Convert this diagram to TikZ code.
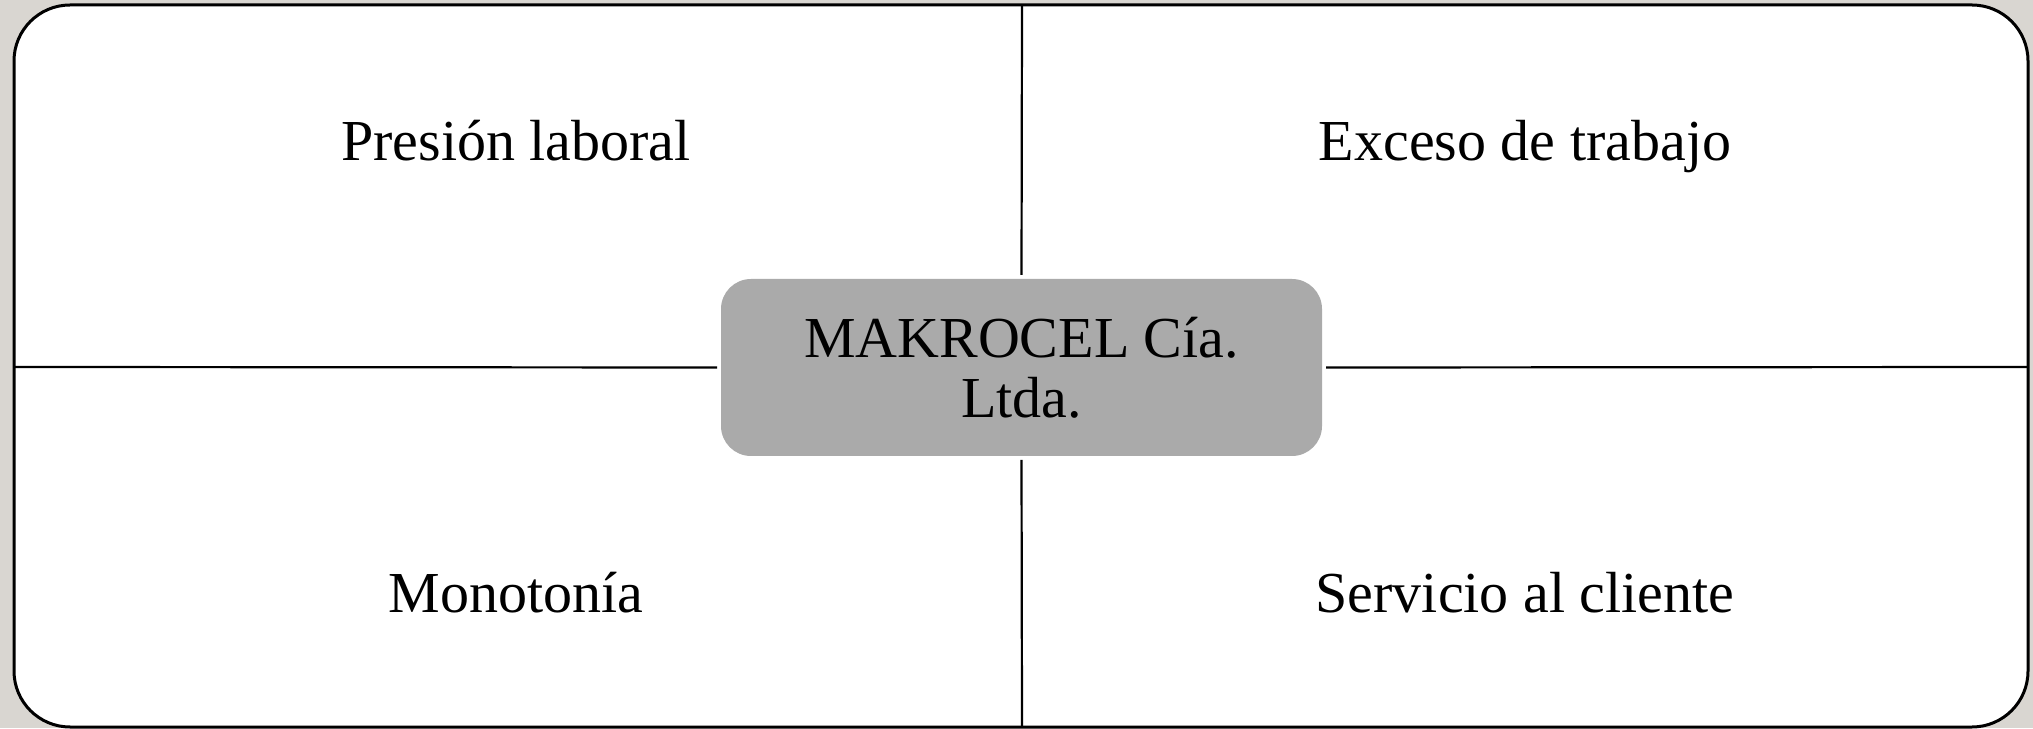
\documentclass[tikz,border=0pt]{standalone}
\usepackage{fontspec}
\setmainfont{Liberation Serif}
\definecolor{fondo}{RGB}{217,214,209}
\definecolor{caja}{RGB}{170,170,170}
\tikzset{
  etiqueta/.style={font=\fontsize{58}{61}\selectfont, anchor=base},
  centro/.style={fill=caja, rounded corners=30pt, minimum width=601pt,
    minimum height=177pt, align=center, outer sep=4pt,
    font=\fontsize{58}{60}\selectfont},
  divisor/.style={line width=2.2pt}
}
\begin{document}
\begin{tikzpicture}[x=1pt, y=1pt]
  % background and frame
  \fill[fondo] (0,0) rectangle (2033,728);
  \useasboundingbox (0,0) rectangle (2033,728);
  \draw[line width=3pt, fill=white, rounded corners=56pt] (14,1) rectangle (2028,723);

  % central company box
  \node[centro] (empresa) at (1021.5,360.5) {MAKROCEL Cía.\\Ltda.};

  % border points
  \coordinate (arriba) at (1022,723);
  \coordinate (abajo) at (1022,1);
  \coordinate (izq) at (14,361);
  \coordinate (der) at (2028,361);

  % dividing lines
  \draw[divisor] (empresa.north) -- (arriba);
  \draw[divisor] (empresa.south) -- (abajo);
  \draw[divisor] (empresa.west) -- (izq);
  \draw[divisor] (empresa.east) -- (der);

  % quadrant labels
  \node[etiqueta] (presion) at (516,567) {Presión laboral};
  \node[etiqueta] (exceso) at (1525,567) {Exceso de trabajo};
  \node[etiqueta] (monotonia) at (516,115) {Monotonía};
  \node[etiqueta] (servicio) at (1525,115) {Servicio al cliente};
\end{tikzpicture}
\end{document}
